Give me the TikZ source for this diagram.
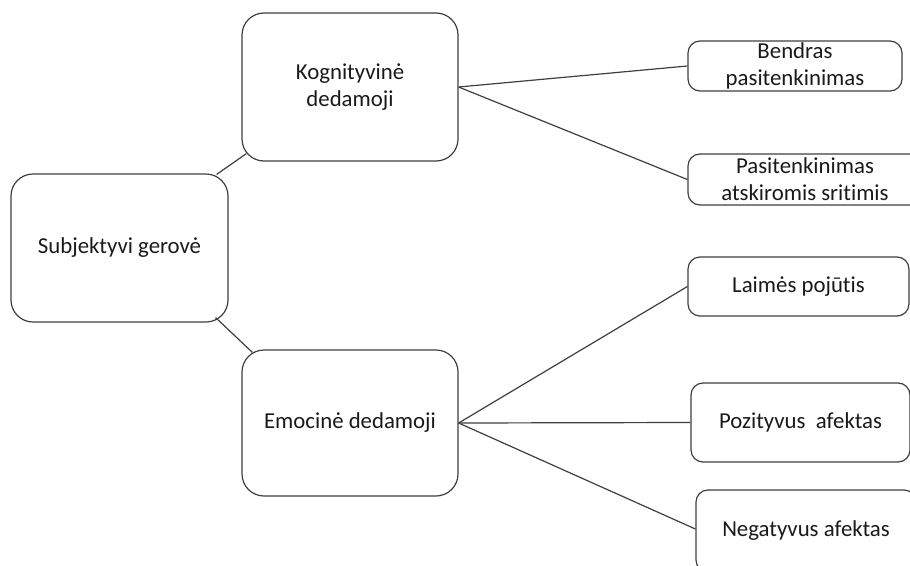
\documentclass[tikz,border=0pt]{standalone}
\usepackage{fontspec}
\setmainfont{Carlito}[Ligatures=NoCommon]
\definecolor{linec}{HTML}{3F3F3F}
\definecolor{textc}{HTML}{1A1A1A}
\begin{document}
\begin{tikzpicture}[x=1pt,y=-1pt,
  box/.style={draw=linec, line width=1.2pt, rounded corners=22pt, inner sep=0pt,
    align=center, text=textc, font=\fontsize{22.8}{27}\selectfont},
  small/.style={box, rounded corners=12pt},
  link/.style={draw=linec, line width=1.2pt}]
\useasboundingbox (0,0) rectangle (910,565);
\fill[white] (0,0) rectangle (910,565);
\clip (0,0) rectangle (910,565);
\node[box, minimum width=217pt, minimum height=148pt] (sub) at (119.5,248) {Subjektyvi gerovė};
\node[box, minimum width=216pt, minimum height=148pt] (kog) at (350,87) {Kognityvinė\\dedamoji};
\node[box, minimum width=216pt, minimum height=146pt] (emo) at (350,423) {Emocinė dedamoji};
\node[small, minimum width=214pt, minimum height=50pt] (ben) at (795,66) {Bendras\\pasitenkinimas};
\node[small, minimum width=234pt, minimum height=51pt] (pas) at (805,179.5) {Pasitenkinimas\\atskiromis sritimis};
\node[small, minimum width=221pt, minimum height=59pt] (lai) at (798.5,286.5) {Laimės pojūtis};
\node[small, minimum width=219pt, minimum height=79pt] (poz) at (800.5,422.5) {Pozityvus\ \ afektas};
\node[small, minimum width=220pt, minimum height=82pt] (neg) at (806,531) {Negatyvus afektas};
\draw[link] ([xshift=-12pt,yshift=-1pt]sub.north east) -- ([xshift=5pt,yshift=8pt]kog.south west);
\draw[link] ([xshift=-13pt,yshift=5pt]sub.south east) -- ([xshift=11pt,yshift=-3pt]emo.north west);
\draw[link] (kog.east) -- (ben.west);
\draw[link] (kog.east) -- (pas.west);
\draw[link] (emo.east) -- (lai.west);
\draw[link] (emo.east) -- (poz.west);
\draw[link] (emo.east) -- ([yshift=2pt]neg.west);
\end{tikzpicture}
\end{document}
